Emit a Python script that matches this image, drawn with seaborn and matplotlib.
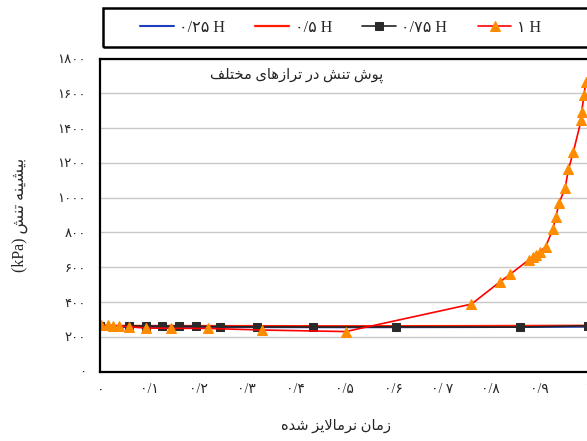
import matplotlib
matplotlib.use("Agg")
import matplotlib.pyplot as plt
import matplotlib.patches as mpatches
import seaborn as sns
import pandas as pd

# data
x_025 = [0.0, 0.25, 0.5, 0.75, 1.0]
y_025 = [256, 256, 255, 256, 258]

x_05 = [0.0, 0.25, 0.5, 0.75, 1.0]
y_05 = [263, 262, 261, 262, 264]

x_075 = [0.0, 0.059, 0.093, 0.127, 0.162, 0.196, 0.245, 0.321, 0.435, 0.606, 0.861, 1.0]
y_075 = [262, 262, 262, 261, 261, 260, 258, 257, 256, 257, 256, 263]

x_1 = [0.002, 0.015, 0.026, 0.037, 0.059, 0.094, 0.145, 0.221, 0.332, 0.503,
       0.761, 0.819, 0.841, 0.878, 0.888, 0.893, 0.902, 0.913, 0.928, 0.934,
       0.941, 0.953, 0.960, 0.970, 0.986, 0.987, 0.992, 0.995]
y_1 = [266, 265, 264, 263, 258, 250, 249, 248, 239, 230,
       388, 515, 561, 641, 657, 670, 689, 718, 818, 890,
       971, 1055, 1163, 1264, 1446, 1494, 1590, 1663]

series_labels = ["۰/۲۵ H", "۰/۵ H", "۰/۷۵ H", "۱ H"]
x_ticks = [0.0, 0.1, 0.2, 0.3, 0.4, 0.5, 0.6, 0.7, 0.8, 0.9, 1.0]
x_tick_labels = ["۰", "۰/۱", "۰/۲", "۰/۳", "۰/۴", "۰/۵", "۰/۶", "۰/ ۷", "۰/۸", "۰/۹", "۱"]
y_ticks = [0, 200, 400, 600, 800, 1000, 1200, 1400, 1600, 1800]
y_tick_labels = ["۰", "۲۰۰", "۴۰۰", "۶۰۰", "۸۰۰", "۱۰۰۰", "۱۲۰۰", "۱۴۰۰", "۱۶۰۰", "۱۸۰۰"]

x_title = "زمان نرمالایز شده"
y_title = "بیشینه تنش (kPa)"
inner_title = "پوش تنش در ترازهای مختلف"


# --- minimal Persian shaping (matplotlib has no complex text layout) ---
# letter: (isolated, final, initial, medial); None means the letter does not join forward
FORMS = {
    "ا": ("\uFE8D", "\uFE8E", None, None),
    "ب": ("\uFE8F", "\uFE90", "\uFE91", "\uFE92"),
    "پ": ("\uFB56", "\uFB57", "\uFB58", "\uFB59"),
    "ت": ("\uFE95", "\uFE96", "\uFE97", "\uFE98"),
    "خ": ("\uFEA5", "\uFEA6", "\uFEA7", "\uFEA8"),
    "د": ("\uFEA9", "\uFEAA", None, None),
    "ر": ("\uFEAD", "\uFEAE", None, None),
    "ز": ("\uFEAF", "\uFEB0", None, None),
    "ش": ("\uFEB5", "\uFEB6", "\uFEB7", "\uFEB8"),
    "ف": ("\uFED1", "\uFED2", "\uFED3", "\uFED4"),
    "ل": ("\uFEDD", "\uFEDE", "\uFEDF", "\uFEE0"),
    "م": ("\uFEE1", "\uFEE2", "\uFEE3", "\uFEE4"),
    "ن": ("\uFEE5", "\uFEE6", "\uFEE7", "\uFEE8"),
    "ه": ("\uFEE9", "\uFEEA", "\uFEEB", "\uFEEC"),
    "و": ("\uFEED", "\uFEEE", None, None),
    "ی": ("\uFBFC", "\uFBFD", "\uFBFE", "\uFBFF"),
}


def shape_word(word):
    out = []
    i = 0
    n = len(word)
    while i < n:
        c = word[i]
        if c not in FORMS:
            out.append(c)
            i += 1
            continue
        prev = word[i - 1] if i > 0 else None
        joins_prev = prev in FORMS and FORMS[prev][2] is not None
        if c == "ل" and i + 1 < n and word[i + 1] == "ا":
            out.append("\uFEFC" if joins_prev else "\uFEFB")
            i += 2
            continue
        nxt = word[i + 1] if i + 1 < n else None
        joins_next = FORMS[c][2] is not None and nxt in FORMS
        iso, fin, ini, med = FORMS[c]
        if joins_prev and joins_next:
            out.append(med)
        elif joins_prev:
            out.append(fin)
        elif joins_next:
            out.append(ini)
        else:
            out.append(iso)
        i += 1
    return "".join(out)


def rtl(text):
    words = []
    for w in text.split(" "):
        if any(ch in FORMS for ch in w):
            words.append(shape_word(w)[::-1])
        else:
            words.append(w)
    return " ".join(words[::-1])


sns.set_style("white")
plt.rcParams["font.family"] = ["Liberation Serif", "DejaVu Sans"]
fam = ["Liberation Serif", "DejaVu Sans"]

fig = plt.figure(figsize=(5.87, 4.41), dpi=100)
ax = fig.add_axes([0.1712, 0.1574, 0.8305, 0.7099])

df25 = pd.DataFrame({"x": x_025, "y": y_025})
df5 = pd.DataFrame({"x": x_05, "y": y_05})
df75 = pd.DataFrame({"x": x_075, "y": y_075})
df1 = pd.DataFrame({"x": x_1, "y": y_1})

sns.lineplot(data=df25, x="x", y="y", ax=ax, color="#1f3fbf", lw=1.5,
             estimator=None, sort=False, label=series_labels[0])
sns.lineplot(data=df5, x="x", y="y", ax=ax, color="#ff1a00", lw=1.6,
             estimator=None, sort=False, label=series_labels[1])
sns.lineplot(data=df75, x="x", y="y", ax=ax, color="#222222", lw=1.2,
             marker="s", markersize=6.3, markerfacecolor="#2a2a2a",
             markeredgecolor="#2a2a2a", estimator=None, sort=False,
             label=series_labels[2])
sns.lineplot(data=df1, x="x", y="y", ax=ax, color="#ff0000", lw=1.2,
             marker="^", markersize=6.8, markerfacecolor="#ff8c00",
             markeredgecolor="#ff8c00", estimator=None, sort=False,
             label=series_labels[3])

ax.set_xlim(0, 1)
ax.set_ylim(0, 1800)
ax.set_xticks(x_ticks)
ax.set_xticklabels(x_tick_labels, family=fam, fontsize=10)
ax.set_yticks(y_ticks)
ax.set_yticklabels(y_tick_labels, family=fam, fontsize=9.5)
ax.set_xticks([0.05 + 0.1 * k for k in range(10)], minor=True)
ax.set_yticks([v for v in range(0, 1801, 50) if v % 200], minor=True)
ax.tick_params(which="major", direction="inout", length=9, width=1.2, color="black")
ax.tick_params(axis="x", which="major", pad=4)
ax.tick_params(axis="y", which="major", pad=6)
ax.tick_params(which="minor", direction="in", length=5, width=1.0, color="black")
ax.grid(axis="y", which="major", color="#c8c8c8", lw=1.0)
ax.grid(axis="x", visible=False)
for side in ["left", "bottom", "top"]:
    ax.spines[side].set_color("black")
    ax.spines[side].set_linewidth(1.6)
ax.spines["right"].set_visible(False)

ax.set_xlabel(rtl(x_title), family=fam, fontsize=10.5, labelpad=16)
ax.xaxis.label.set_x(0.483)
ax.set_ylabel(rtl(y_title), family=fam, fontsize=11.5, labelpad=21)
ax.text(0.403, 0.947, rtl(inner_title), transform=ax.transAxes, ha="center",
        va="center", family=fam, fontsize=10.5)

# legend in a box across the top
handles, labels = ax.get_legend_handles_labels()
ax.get_legend().remove()
fig.patches.append(mpatches.Rectangle((103 / 587, 1 - 47 / 441), 0.9, 39 / 441,
                                      transform=fig.transFigure, fill=False,
                                      edgecolor="black", lw=1.8))
fig.legend(handles, labels, loc="center left", bbox_to_anchor=(132 / 587, 1 - 28 / 441),
           ncol=4, frameon=False, borderpad=0, handlelength=2.1, handletextpad=0.35,
           columnspacing=1.9, prop={"family": fam, "size": 11.5})

fig.savefig("out.png", dpi=100)
